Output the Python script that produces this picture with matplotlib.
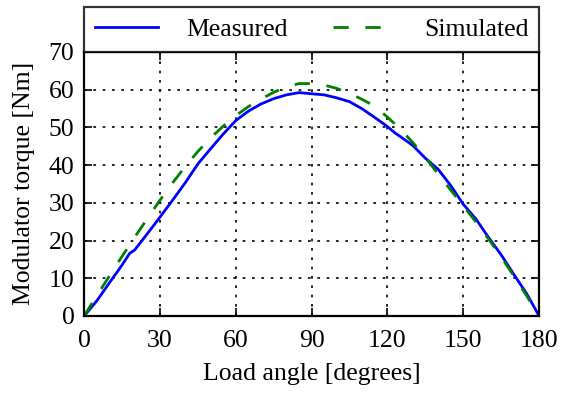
import matplotlib
matplotlib.use('Agg')
import matplotlib.pyplot as plt

# load angle in degrees and modulator torque in Nm
angle_meas = [0, 5, 10, 15, 18, 20, 25, 30, 35, 40, 45, 50, 55, 60, 65, 70, 75,
              80, 85, 90, 95, 100, 105, 110, 115, 120, 123, 125, 130, 135, 140,
              145, 150, 155, 160, 165, 170, 175, 180]
torque_meas = [0, 4.0, 8.8, 13.5, 16.6, 17.5, 21.8, 26.2, 30.7, 35.3, 40.3, 44.3,
               48.2, 51.8, 54.3, 56.2, 57.6, 58.6, 59.2, 58.9, 58.6, 57.8, 56.8,
               54.9, 52.6, 50.2, 48.5, 47.6, 45.2, 41.8, 38.9, 34.6, 29.6, 25.7,
               20.8, 16.2, 11.0, 6.0, 0]

angle_sim = [0, 5, 10, 15, 20, 25, 30, 35, 40, 45, 50, 55, 60, 65, 70, 75, 80,
             85, 90, 95, 100, 105, 110, 115, 120, 125, 130, 135, 140, 145, 150,
             155, 160, 165, 170, 175, 180]
torque_sim = [0, 5.4, 10.6, 15.8, 20.9, 25.8, 30.7, 35.3, 39.6, 43.6, 47.2, 50.3,
              53.1, 55.5, 57.5, 59.3, 60.7, 61.6, 61.6, 61.2, 60.3, 59.0, 57.4,
              55.6, 52.7, 49.6, 46.0, 42.0, 37.7, 33.4, 29.2, 24.9, 20.4, 15.6,
              10.6, 5.4, 0]

xticks = [0, 30, 60, 90, 120, 150, 180]
yticks = [0, 10, 20, 30, 40, 50, 60, 70]

plt.rcParams['font.family'] = ['Liberation Serif', 'DejaVu Serif']
plt.rcParams['font.size'] = 18.5

fig = plt.figure(figsize=(5.61, 3.93), dpi=100)
ax = fig.add_axes([0.15, 0.196, 0.811, 0.672])

ax.plot(angle_meas, torque_meas, color='b', lw=2, label='Measured')
ax.plot(angle_sim, torque_sim, color='g', lw=2, ls=(0, (5.5, 6)),
        label='Simulated')

ax.set_xlim(0, 180)
ax.set_ylim(0, 70)
ax.set_xticks(xticks)
ax.set_yticks(yticks)
ax.grid(True, color='k', lw=1.2, ls=(0, (1.6, 4)))
ax.tick_params(direction='in', top=True, right=True, length=6, width=1.2)
ax.tick_params(axis='y', pad=7)
ax.tick_params(axis='x', pad=10)
for sp in ax.spines.values():
    sp.set_linewidth(1.6)

ax.set_xlabel('Load angle [degrees]', labelpad=8)
ax.set_ylabel('Modulator torque [Nm]', labelpad=10)

leg = ax.legend(loc='lower left', bbox_to_anchor=(0, 1, 1, 0.17), ncol=2,
                mode='expand', borderaxespad=0, fancybox=False,
                handlelength=2.45, handletextpad=1.1, borderpad=0.42)
leg.get_frame().set_edgecolor('k')
leg.get_frame().set_linewidth(1.6)

fig.savefig('out.png', dpi=100)
